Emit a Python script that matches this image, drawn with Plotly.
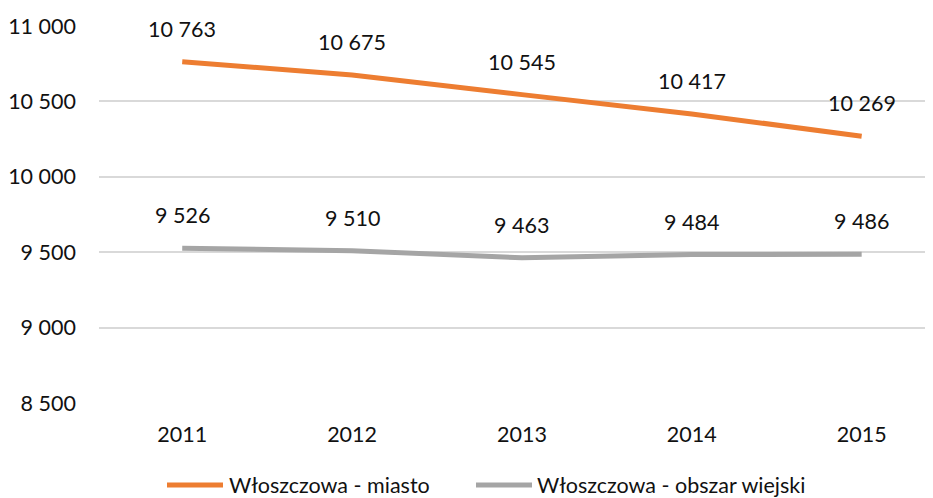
import plotly.graph_objects as go

years = ["2011", "2012", "2013", "2014", "2015"]
miasto = [10763, 10675, 10545, 10417, 10269]
wiejski = [9526, 9510, 9463, 9484, 9486]
series_names = ["Włoszczowa - miasto", "Włoszczowa - obszar wiejski"]
y_ticks = [8500, 9000, 9500, 10000, 10500, 11000]
y_tick_labels = ["8 500", "9 000", "9 500", "10 000", "10 500", "11 000"]

def fmt(v):
    return f"{v:,}".replace(",", " ")

FONT = "Lato, Carlito, Calibri, sans-serif"
TXT = "#111111"
FS = 21.5
colors = ["#ED7D31", "#A5A5A5"]
xs = list(range(len(years)))

# the page body has an 8 px margin; size the figure so it fills the window
OFF = 8
W, H = 933 - OFF, 498 - OFF
ML, MR, MT, MB = 99 - OFF, 0, 26 - OFF, H - (403 - OFF)
PW, PH = W - ML - MR, H - MT - MB

def px_x(p):  # page pixel -> paper
    return (p - OFF - ML) / PW

def px_y(p):
    return (H - MB - (p - OFF)) / PH

fig = go.Figure()
for name, vals, col in zip(series_names, [miasto, wiejski], colors):
    fig.add_trace(go.Scatter(
        x=xs, y=vals, name=name, mode="lines",
        line=dict(color=col, width=5),
        hoverinfo="skip", showlegend=False,
    ))
    for x, v in zip(xs, vals):
        fig.add_annotation(x=x, y=v, text=fmt(v), showarrow=False,
                           yshift=33, font=dict(size=FS, color=TXT, family=FONT))

legend_items = [(series_names[0], colors[0], 167, 223, 227),
                (series_names[1], colors[1], 476, 532, 535)]
ly = px_y(485)
for name, col, x0, x1, xt in legend_items:
    fig.add_shape(type="line", xref="paper", yref="paper",
                  x0=px_x(x0), x1=px_x(x1), y0=ly, y1=ly,
                  line=dict(color=col, width=5))
    fig.add_annotation(xref="paper", yref="paper", x=px_x(xt), y=ly,
                       xanchor="left", yanchor="middle", text=name, showarrow=False,
                       font=dict(size=FS, color=TXT, family=FONT))

fig.update_layout(
    width=W, height=H,
    margin=dict(l=ML, r=MR, t=MT, b=MB),
    paper_bgcolor="white", plot_bgcolor="white",
    font=dict(family=FONT, size=FS, color=TXT),
    showlegend=False,
)
fig.update_xaxes(
    range=[-0.49, 4.42], tickvals=xs, ticktext=years,
    showgrid=False, zeroline=False, showline=False, ticks="",
    ticklabelstandoff=16,
)
fig.update_yaxes(
    range=[8500, 11000], tickvals=y_ticks, ticktext=y_tick_labels,
    showgrid=True, gridcolor="#D9D9D9", gridwidth=1.5, zeroline=False,
    showline=False, ticks="", ticklabelstandoff=22,
)
fig.write_html("out.html")
